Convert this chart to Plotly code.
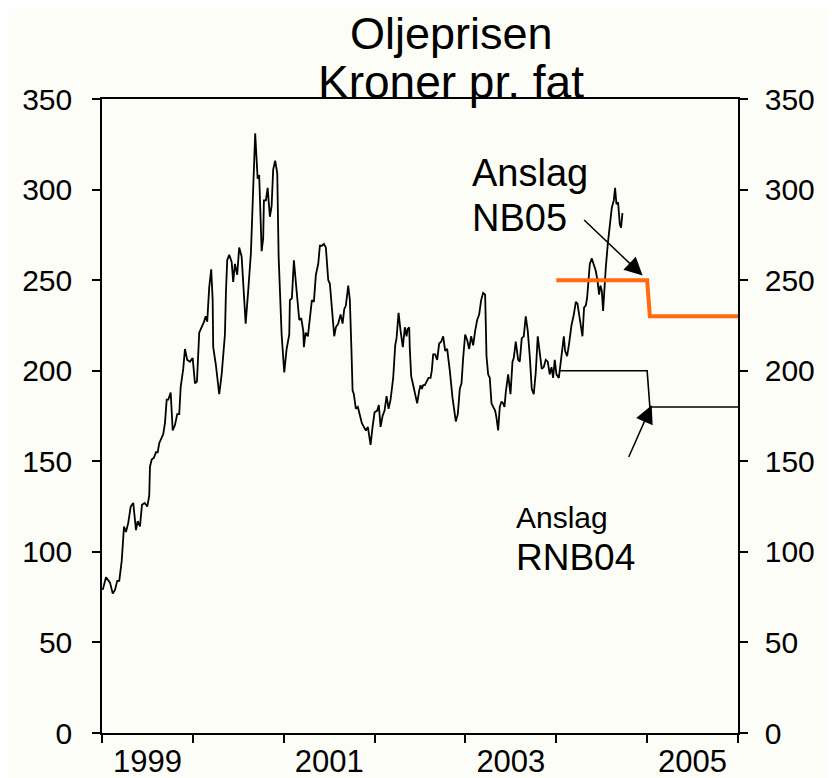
import plotly.graph_objects as go

# Oil price, NOK per barrel (time in decimal years)
price_t = [1999.008, 1999.044, 1999.088, 1999.118, 1999.143, 1999.168, 1999.190, 1999.217, 1999.242, 1999.264,
           1999.289, 1999.316, 1999.344, 1999.374, 1999.393, 1999.418, 1999.440, 1999.470, 1999.498, 1999.520,
           1999.528, 1999.547, 1999.572, 1999.594, 1999.613, 1999.630, 1999.657, 1999.674, 1999.693, 1999.712,
           1999.729, 1999.756, 1999.778, 1999.803, 1999.828, 1999.850, 1999.866, 1999.894, 1999.913, 1999.938,
           1999.968, 1999.998, 2000.023, 2000.045, 2000.070, 2000.097, 2000.122, 2000.141, 2000.158, 2000.180,
           2000.202, 2000.218, 2000.224, 2000.254, 2000.290, 2000.317, 2000.353, 2000.364, 2000.378, 2000.400,
           2000.427, 2000.444, 2000.463, 2000.488, 2000.510, 2000.537, 2000.581, 2000.609, 2000.639, 2000.658,
           2000.686, 2000.713, 2000.730, 2000.757, 2000.774, 2000.782, 2000.804, 2000.823, 2000.848, 2000.867,
           2000.884, 2000.906, 2000.929, 2000.944, 2000.977, 2001.006, 2001.032, 2001.061, 2001.068, 2001.090,
           2001.112, 2001.142, 2001.171, 2001.193, 2001.215, 2001.222, 2001.241, 2001.266, 2001.288, 2001.310,
           2001.332, 2001.354, 2001.380, 2001.398, 2001.420, 2001.442, 2001.464, 2001.490, 2001.508, 2001.534,
           2001.556, 2001.574, 2001.600, 2001.626, 2001.648, 2001.666, 2001.684, 2001.710, 2001.728, 2001.747,
           2001.758, 2001.772, 2001.794, 2001.816, 2001.838, 2001.860, 2001.882, 2001.904, 2001.926, 2001.956,
           2001.978, 2002.000, 2002.029, 2002.047, 2002.066, 2002.088, 2002.110, 2002.132, 2002.154, 2002.176,
           2002.205, 2002.227, 2002.242, 2002.264, 2002.286, 2002.311, 2002.333, 2002.352, 2002.363, 2002.381,
           2002.388, 2002.403, 2002.425, 2002.447, 2002.469, 2002.491, 2002.506, 2002.520, 2002.535, 2002.553,
           2002.572, 2002.594, 2002.616, 2002.630, 2002.645, 2002.667, 2002.689, 2002.711, 2002.733, 2002.755,
           2002.777, 2002.799, 2002.828, 2002.858, 2002.894, 2002.916, 2002.938, 2002.957, 2002.975, 2002.997,
           2003.019, 2003.041, 2003.063, 2003.085, 2003.107, 2003.129, 2003.151, 2003.173, 2003.195, 2003.217,
           2003.232, 2003.250, 2003.268, 2003.287, 2003.305, 2003.327, 2003.342, 2003.360, 2003.378, 2003.397,
           2003.415, 2003.430, 2003.444, 2003.470, 2003.496, 2003.518, 2003.532, 2003.554, 2003.580, 2003.598,
           2003.620, 2003.642, 2003.664, 2003.686, 2003.708, 2003.730, 2003.752, 2003.774, 2003.796, 2003.818,
           2003.840, 2003.862, 2003.884, 2003.906, 2003.928, 2003.947, 2003.965, 2003.983, 2004.002, 2004.028,
           2004.046, 2004.068, 2004.083, 2004.097, 2004.119, 2004.141, 2004.167, 2004.193, 2004.215, 2004.233,
           2004.251, 2004.266, 2004.288, 2004.306, 2004.325, 2004.339, 2004.354, 2004.369, 2004.391, 2004.413,
           2004.435, 2004.453, 2004.471, 2004.486, 2004.501, 2004.515, 2004.530, 2004.545, 2004.567, 2004.589,
           2004.611, 2004.633, 2004.647, 2004.662, 2004.680, 2004.699, 2004.713, 2004.728]
price_v = [79, 86, 83, 77, 79, 84, 84, 95, 114, 111,
           116, 125, 127, 112, 117, 114, 126, 127, 125, 131,
           147, 151, 152, 155, 155, 160, 163, 165, 171, 184,
           184, 188, 167, 170, 176, 176, 191, 201, 212, 206,
           205, 207, 193, 194, 221, 224, 227, 230, 227, 246,
           256, 239, 213, 203, 187, 198, 220, 243, 261, 264,
           260, 249, 259, 253, 268, 263, 226, 244, 265, 292,
           331, 306, 308, 266, 273, 294, 294, 301, 285, 291,
           311, 316, 309, 263, 220, 199, 212, 220, 239, 240,
           261, 244, 228, 229, 222, 213, 221, 219, 230, 239,
           238, 253, 259, 269, 269, 270, 268, 250, 248, 232,
           219, 224, 226, 231, 226, 234, 236, 247, 239, 209,
           189, 187, 179, 180, 176, 171, 169, 167, 169, 159,
           169, 177, 178, 181, 169, 175, 178, 186, 179, 184,
           196, 214, 218, 232, 222, 213, 224, 219, 223, 224,
           212, 197, 192, 186, 182, 189, 192, 190, 192, 192,
           194, 196, 196, 200, 209, 209, 206, 215, 216, 219,
           211, 212, 200, 185, 172, 176, 190, 193, 207, 220,
           217, 212, 219, 214, 222, 228, 231, 239, 243, 242,
           208, 198, 196, 182, 180, 178, 174, 167, 180, 183,
           182, 180, 188, 198, 187, 205, 207, 216, 206, 205,
           218, 219, 230, 222, 208, 190, 187, 199, 219, 208,
           201, 202, 206, 205, 198, 202, 196, 206, 198, 196,
           204, 214, 219, 211, 208, 215, 225, 231, 238, 237,
           231, 226, 219, 235, 236, 240, 250, 259, 262, 258,
           255, 250, 242, 247, 244, 233, 248, 257, 270, 280,
           290, 294, 301, 292, 293, 281, 279, 287]

# Forecasts
nb05_t = [2004.0, 2005.0, 2005.03, 2006.0]
nb05_v = [250, 250, 230, 230]
rnb04_t = [2004.03, 2005.0, 2005.03, 2006.0]
rnb04_v = [200, 200, 180, 180]

year_ticks = [1999, 2000, 2001, 2002, 2003, 2004, 2005, 2006]
label_pos = [1999.5, 2001.5, 2003.5, 2005.5]
label_text = ["1999", "2001", "2003", "2005"]
y_ticks = [0, 50, 100, 150, 200, 250, 300, 350]

FONT = "Liberation Sans, Arial, sans-serif"
BG = "#fcfdf6"

fig = go.Figure()
fig.add_trace(go.Scatter(x=price_t, y=price_v, mode="lines",
                         line=dict(color="black", width=1.8), showlegend=False))
fig.add_trace(go.Scatter(x=rnb04_t, y=rnb04_v, mode="lines", yaxis="y2",
                         line=dict(color="black", width=1.6), showlegend=False))
fig.add_trace(go.Scatter(x=nb05_t, y=nb05_v, mode="lines", yaxis="y2",
                         line=dict(color="#ff6a10", width=4), showlegend=False))

axis_common = dict(range=[0, 350], tickvals=y_ticks, ticks="outside", ticklen=8,
                   tickwidth=1.5, tickcolor="black", showline=True, linecolor="black",
                   linewidth=1.5, showgrid=False, zeroline=False, automargin=False,
                   tickfont=dict(family=FONT, size=30, color="black"))

fig.update_layout(
    width=836, height=778,
    margin=dict(l=94, r=106, t=91, b=53),
    paper_bgcolor=BG, plot_bgcolor=BG,
    xaxis=dict(range=[1999, 2006], tickvals=label_pos, ticktext=label_text, ticks="",
               showline=True, linecolor="black", linewidth=1.5, mirror=True,
               showgrid=False, zeroline=False, automargin=False, ticklabelstandoff=0,
               tickfont=dict(family=FONT, size=31, color="black"),
               minor=dict(tickvals=year_ticks, ticks="outside", ticklen=8,
                          tickwidth=1.5, tickcolor="black", showgrid=False)),
    yaxis=dict(side="left", ticklabelstandoff=14, **axis_common),
    yaxis2=dict(side="right", overlaying="y", ticklabelstandoff=11, **axis_common),
    showlegend=False,
)

# Title
fig.add_annotation(text="Oljeprisen", xref="paper", yref="paper", x=0.549, y=1.1033,
                   xanchor="center", yanchor="middle", showarrow=False,
                   font=dict(family=FONT, size=45, color="black"))
fig.add_annotation(text="Kroner pr. fat", xref="paper", yref="paper", x=0.549, y=1.0268,
                   xanchor="center", yanchor="middle", showarrow=False,
                   font=dict(family=FONT, size=46, color="black"))

# Labels
fig.add_annotation(text="Anslag", x=2003.05, y=309, xanchor="left", yanchor="middle",
                   showarrow=False, font=dict(family=FONT, size=38, color="black"))
fig.add_annotation(text="NB05", x=2003.05, y=284.5, xanchor="left", yanchor="middle",
                   showarrow=False, font=dict(family=FONT, size=38, color="black"))
fig.add_annotation(text="Anslag", x=2003.54, y=119, xanchor="left", yanchor="middle",
                   showarrow=False, font=dict(family=FONT, size=30, color="black"))
fig.add_annotation(text="RNB04", x=2003.54, y=97, xanchor="left", yanchor="middle",
                   showarrow=False, font=dict(family=FONT, size=37, color="black"))

# Arrows
fig.add_annotation(x=2004.95, y=252.5, ax=2004.29, ay=284, xref="x", yref="y",
                   axref="x", ayref="y", text="", showarrow=True, arrowhead=2,
                   arrowsize=2.4, arrowwidth=1.5, arrowcolor="black")
fig.add_annotation(x=2005.05, y=181, ax=2004.79, ay=151.5, xref="x", yref="y",
                   axref="x", ayref="y", text="", showarrow=True, arrowhead=2,
                   arrowsize=2.4, arrowwidth=1.5, arrowcolor="black")

fig.write_html("out.html")
